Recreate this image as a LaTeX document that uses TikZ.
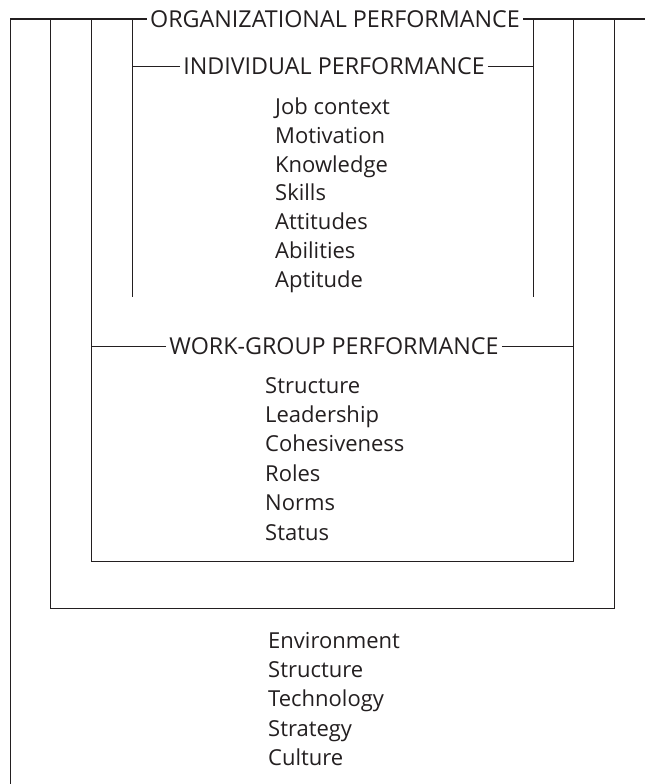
\documentclass[tikz,border=0pt]{standalone}
\usepackage{fontspec}
\setmainfont{Open Sans}
\usepackage{tikz}
\usetikzlibrary{calc}

\definecolor{ink}{RGB}{35,31,32}

\begin{document}
\begin{tikzpicture}[x=1pt,y=-1pt,
  frame/.style={draw=ink,line width=0.9pt},
  head/.style={text=ink,font=\fontsize{23.3}{27}\selectfont,inner xsep=3pt,inner ysep=0pt},
  item/.style={text=ink,font=\fontsize{22}{26}\selectfont,inner sep=0pt,anchor=base west}]
\useasboundingbox (0,0) rectangle (645,784);

% headings
\node[head] (org) at (335,19) {ORGANIZATIONAL PERFORMANCE};
\node[head] (ind) at (334,66) {INDIVIDUAL PERFORMANCE};
\node[head] (wg) at (334,346) {WORK-GROUP PERFORMANCE};

% corners of the frames
\coordinate (orgL) at (10,19);
\coordinate (orgR) at (645,19);
\coordinate (orgB) at (10,784);
\coordinate (boxTL) at (50,19);
\coordinate (boxBL) at (50,608);
\coordinate (boxBR) at (614,608);
\coordinate (boxTR) at (614,19);
\coordinate (wgTL) at (91,19);
\coordinate (wgBL) at (91,561);
\coordinate (wgBR) at (573,561);
\coordinate (wgTR) at (573,19);
\coordinate (indTL) at (132,19);
\coordinate (indBL) at (132,297);
\coordinate (indTR) at (533,19);
\coordinate (indBR) at (533,297);

% organizational
\draw[frame,line width=1.3pt] (org.west) -- (orgL);
\draw[frame,line width=1.3pt] (org.east) -- (orgR);
\draw[frame] (orgL) -- (orgB);
\draw[frame] (boxTL) -- (boxBL) -- (boxBR) -- (boxTR);

% work group
\draw[frame] (wgTL) -- (wgBL) -- (wgBR) -- (wgTR);
\draw[frame] (wg.west) -- (wg.west -| wgTL);
\draw[frame] (wg.east) -- (wg.east -| wgTR);

% individual
\draw[frame] (indTL) -- (indBL);
\draw[frame] (indTR) -- (indBR);
\draw[frame] (ind.west) -- (ind.west -| indTL);
\draw[frame] (ind.east) -- (ind.east -| indTR);

% lists
\foreach \t [count=\i] in {Job context,Motivation,Knowledge,Skills,Attitudes,Abilities,Aptitude}
  \node[item] (job\i) at (275,{114.5+28.8*(\i-1)}) {\t};
\foreach \t [count=\i] in {Structure,Leadership,Cohesiveness,Roles,Norms,Status}
  \node[item] (grp\i) at (265,{393+29.4*(\i-1)}) {\t};
\foreach \t [count=\i] in {Environment,Structure,Technology,Strategy,Culture}
  \node[item] (env\i) at (268,{648+29.4*(\i-1)}) {\t};

\end{tikzpicture}
\end{document}
